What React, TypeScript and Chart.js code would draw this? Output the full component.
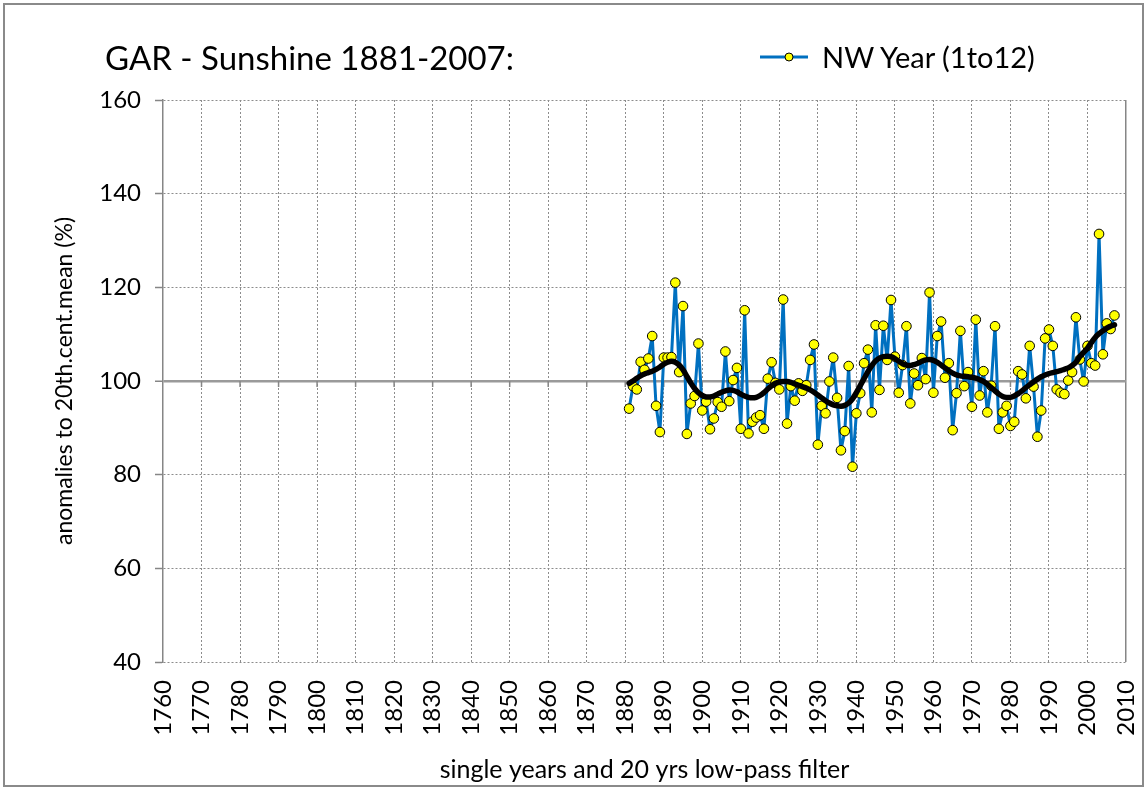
import React, { useEffect, useRef } from 'react';
import { Chart, registerables } from 'chart.js';

Chart.register(...registerables);

const FIRST_YEAR = 1881;

// Yearly sunshine anomalies (%), 1881..2007
const sunshine = [
  94.1, 98.9, 98.2, 104.1, 102.4, 104.8, 109.6, 94.7, 89.1, 105.0,
  105.0, 105.1, 121.0, 101.9, 116.0, 88.7, 95.2, 96.8, 108.0, 93.7,
  95.6, 89.7, 92.0, 95.5, 94.5, 106.3, 95.7, 100.2, 102.8, 89.8,
  115.1, 88.8, 91.3, 92.2, 92.7, 89.8, 100.5, 104.0, 99.6, 98.2,
  117.4, 90.9, 98.9, 95.8, 99.5, 97.9, 99.1, 104.5, 107.8, 86.4,
  94.7, 93.1, 99.9, 105.0, 96.4, 85.2, 89.3, 103.2, 81.7, 93.1,
  97.4, 103.8, 106.7, 93.3, 111.9, 98.1, 111.8, 104.5, 117.3, 105.2,
  97.5, 103.4, 111.7, 95.2, 101.6, 99.1, 104.9, 100.4, 118.9, 97.5,
  109.6, 112.7, 100.7, 103.8, 89.5, 97.4, 110.7, 98.9, 101.9, 94.5,
  113.1, 96.9, 102.1, 93.3, 99.0, 111.7, 89.8, 93.3, 94.7, 90.4,
  91.3, 102.1, 101.4, 96.3, 107.5, 98.8, 88.1, 93.7, 109.1, 111.0,
  107.5, 98.2, 97.5, 97.2, 100.1, 101.9, 113.6, 104.6, 99.9, 107.5,
  103.8, 103.3, 131.4, 105.7, 112.3, 111.1, 114.0,
];

// 20 yrs low-pass filter, 1881..2007
const lowPass = [
  99.5, 100.0, 100.6, 101.1, 101.5, 101.8, 102.1, 102.5, 103.0, 103.6,
  104.0, 104.2, 104.0, 103.4, 102.4, 101.0, 99.6, 98.4, 97.5, 96.9,
  96.6, 96.6, 96.8, 97.2, 97.6, 97.9, 98.1, 98.0, 97.7, 97.2,
  96.8, 96.5, 96.4, 96.5, 96.9, 97.5, 98.3, 99.0, 99.5, 99.8,
  99.9, 99.9, 99.7, 99.4, 99.1, 98.8, 98.5, 98.1, 97.6, 97.0,
  96.4, 95.8, 95.3, 94.9, 94.7, 94.6, 94.8, 95.3, 96.2, 97.5,
  99.0, 100.5, 102.0, 103.3, 104.3, 104.9, 105.2, 105.3, 105.2, 104.8,
  104.2, 103.7, 103.4, 103.3, 103.5, 103.8, 104.2, 104.5, 104.6, 104.4,
  104.0, 103.4, 102.8, 102.2, 101.7, 101.3, 101.1, 101.0, 100.9, 100.8,
  100.6, 100.3, 99.9, 99.3, 98.6, 97.9, 97.2, 96.7, 96.5, 96.5,
  96.8, 97.3, 97.9, 98.6, 99.2, 99.8, 100.4, 100.9, 101.3, 101.6,
  101.8, 102.0, 102.2, 102.5, 102.8, 103.3, 104.0, 105.2, 106.1, 107.0,
  108.2, 109.3, 110.1, 110.7, 111.3, 111.7, 112.0,
];

const chartTitle = 'GAR - Sunshine 1881-2007:';
const seriesLabel = 'NW Year (1to12)';
const filterLabel = '20 yrs low-pass filter';
const yTitle = 'anomalies to 20th.cent.mean (%)';
const xTitle = 'single years and 20 yrs low-pass filter';
const xRange = [1760, 2010];
const xStep = 10;
const yRange = [40, 160];
const yStep = 20;
const baseline = 100;

const FONT = 'Lato';
const GRID = '#8c8c8c';
const AXIS = '#868686';

const baselineTicks = {
  id: 'baselineTicks',
  beforeDatasetsDraw(chart: any) {
    const { ctx, scales } = chart;
    const x = scales.x;
    const y = scales.y;
    const py = y.getPixelForValue(baseline);
    ctx.save();
    ctx.strokeStyle = AXIS;
    ctx.lineWidth = 1.5;
    x.ticks.forEach((t: any) => {
      if (t.value <= xRange[0] || t.value >= xRange[1]) return;
      const px = x.getPixelForValue(t.value);
      ctx.beginPath();
      ctx.moveTo(px, py);
      ctx.lineTo(px, py + 6);
      ctx.stroke();
    });
    ctx.restore();
  },
};

export default function App() {
  const ref = useRef<HTMLCanvasElement | null>(null);

  useEffect(() => {
    document.body.style.margin = '0';
    const canvas = ref.current;
    if (!canvas) return;
    const chart = new Chart(canvas, {
      type: 'line',
      data: {
        datasets: [
          {
            label: filterLabel,
            data: lowPass.map((v, i) => ({ x: FIRST_YEAR + i, y: v })),
            borderColor: '#000000',
            borderWidth: 5.5,
            borderJoinStyle: 'round',
            borderCapStyle: 'round',
            pointRadius: 0,
            tension: 0.3,
            fill: false,
          },
          {
            label: seriesLabel,
            data: sunshine.map((v, i) => ({ x: FIRST_YEAR + i, y: v })),
            borderColor: '#0070C0',
            borderWidth: 3,
            borderJoinStyle: 'round',
            pointRadius: 4.8,
            pointBackgroundColor: '#FFFF00',
            pointBorderColor: '#000000',
            pointBorderWidth: 1,
            tension: 0,
            fill: false,
          },
        ],
      },
      options: {
        responsive: false,
        animation: false,
        devicePixelRatio: 1,
        layout: { padding: { top: 100, right: 22, bottom: 0, left: 0 } },
        plugins: {
          legend: { display: false },
          title: { display: false },
          tooltip: { enabled: false },
        },
        scales: {
          x: {
            type: 'linear',
            min: xRange[0],
            max: xRange[1],
            ticks: {
              stepSize: xStep,
              minRotation: 90,
              maxRotation: 90,
              padding: 18,
              color: '#000',
              font: { family: FONT, size: 24 },
              callback: (v: any) => String(v),
            },
            grid: {
              drawTicks: false,
              color: (c: any) =>
                c.tick && c.tick.value === xRange[0]
                  ? 'rgba(0,0,0,0)'
                  : c.tick && c.tick.value === xRange[1]
                  ? AXIS
                  : GRID,
              lineWidth: (c: any) => (c.tick && c.tick.value === xRange[1] ? 1.5 : 1),
            },
            border: {
              display: false,
              dash: (c: any) => (c.type === 'tick' && c.tick.value !== xRange[1] ? [2, 2] : []),
            },
            title: {
              display: true,
              text: xTitle,
              color: '#000',
              font: { family: FONT, size: 25 },
              padding: { top: 0, bottom: 9 },
            },
            afterFit: (s: any) => {
              s.height = 132;
              s.paddingLeft = 0;
              s.paddingRight = 0;
            },
          },
          y: {
            type: 'linear',
            min: yRange[0],
            max: yRange[1],
            ticks: {
              stepSize: yStep,
              padding: 14,
              color: '#000',
              font: { family: FONT, size: 24 },
              callback: (v: any) => String(v),
            },
            grid: {
              drawTicks: true,
              tickLength: 8,
              tickColor: AXIS,
              tickWidth: 1.5,
              color: (c: any) => (c.tick && c.tick.value === baseline ? '#9a9a9a' : GRID),
              lineWidth: (c: any) => (c.tick && c.tick.value === baseline ? 2.5 : 1),
            },
            border: {
              display: true,
              color: AXIS,
              width: 1.5,
              dash: (c: any) => (c.type === 'tick' && c.tick.value !== baseline ? [2, 2] : []),
            },
            title: {
              display: true,
              text: yTitle,
              color: '#000',
              font: { family: FONT, size: 23 },
              padding: { top: 51, bottom: 0 },
            },
            afterFit: (s: any) => {
              s.width = 163;
            },
          },
        },
      },
      plugins: [baselineTicks],
    } as any);
    return () => chart.destroy();
  }, []);

  return (
    <div style={{ position: 'absolute', left: 0, top: 0, width: 1148, height: 794, background: '#fff' }}>
      <canvas ref={ref} width={1148} height={794} style={{ display: 'block', width: 1148, height: 794 }} />
      <div
        style={{
          position: 'absolute',
          left: 105,
          top: 37,
          fontFamily: FONT,
          fontSize: 33,
          lineHeight: '40px',
          color: '#000',
          whiteSpace: 'nowrap',
        }}
      >
        {chartTitle}
      </div>
      <div
        style={{
          position: 'absolute',
          left: 758,
          top: 37,
          height: 40,
          display: 'flex',
          alignItems: 'center',
          whiteSpace: 'nowrap',
        }}
      >
        <svg width="52" height="20" style={{ display: 'block' }}>
          <line x1="2" y1="10" x2="50" y2="10" stroke="#0070C0" strokeWidth="3" />
          <circle cx="31" cy="10" r="4" fill="#FFFF00" stroke="#000" strokeWidth="1" />
        </svg>
        <span style={{ fontFamily: FONT, fontSize: 29, lineHeight: '40px', marginLeft: 12, color: '#000' }}>
          {seriesLabel}
        </span>
      </div>
      <div
        style={{
          position: 'absolute',
          left: 3,
          top: 3,
          width: 1141,
          height: 784,
          boxSizing: 'border-box',
          border: '2px solid #8a8a8a',
          pointerEvents: 'none',
        }}
      />
    </div>
  );
}
